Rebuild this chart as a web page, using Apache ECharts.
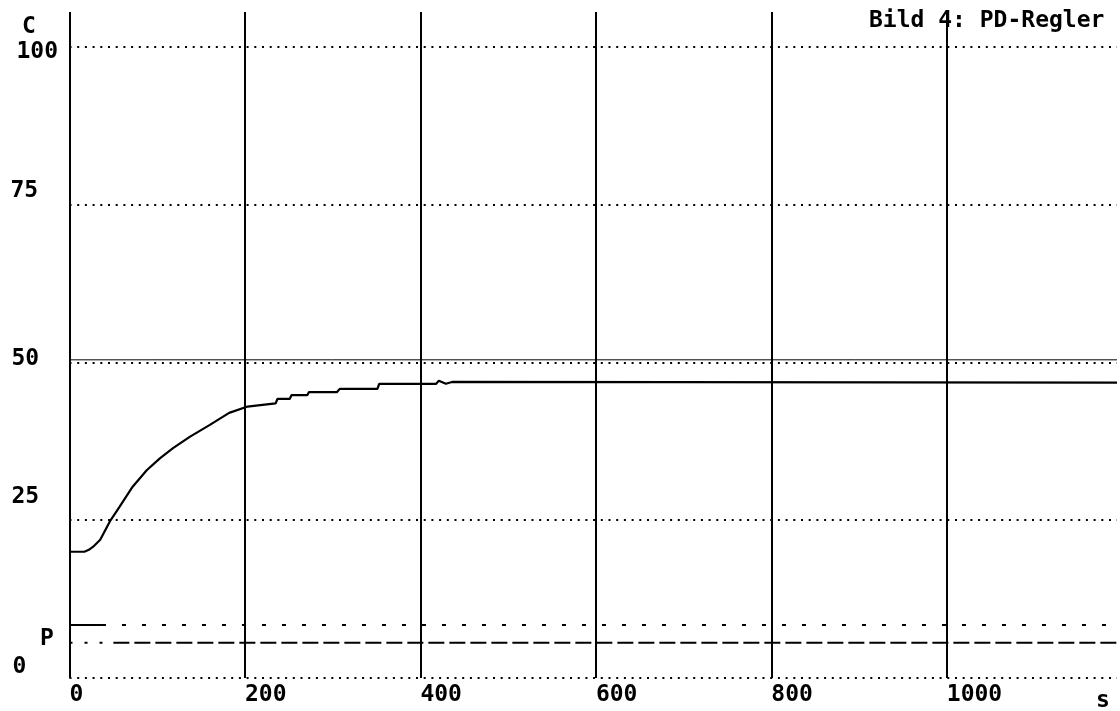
<!DOCTYPE html>
<html><head><meta charset="utf-8">
<script src="https://cdn.jsdelivr.net/npm/echarts@6/dist/echarts.min.js"></script>
<style>html,body{margin:0;padding:0;background:#fff}#c{width:1120px;height:711px}</style>
</head><body><div id="c"></div>
<script>
// --- data ---
const xTicks = [0, 200, 400, 600, 800, 1000];
const yTicks = [0, 25, 50, 75, 100];
const xMax = 1194;
const titleText = 'Bild 4: PD-Regler';
const yName = 'C';
const pName = 'P';
const xName = 's';

// controlled variable C over time t (s)
const curveT = [0, 17, 22, 27, 35, 46, 57, 72, 88, 103, 118, 137, 160, 182, 203, 215, 216, 235, 237, 251, 253, 271, 273, 305, 308, 351, 353, 418, 421, 429, 436, 1194];
const curveC = [20.0, 20.0, 20.3, 20.8, 21.9, 24.8, 27.1, 30.3, 32.9, 34.8, 36.4, 38.2, 40.1, 42.0, 43.0, 43.2, 43.5, 43.5, 44.2, 44.2, 44.8, 44.8, 45.3, 45.3, 45.8, 45.8, 46.6, 46.6, 47.1, 46.6, 46.9, 46.8];

// setpoint line
const setT = [0, 1194];
const setC = [50.4, 50.4];

// upper P trace (solid start, then dotted)
const pUpSolidT = [0, 37];
const pUpDotT = [37, 1194];
const pUpLevel = 8.4;

// lower P trace (dotted start, then dashed)
const pLowDotT = [0, 50];
const pLowDashT = [50, 1194];
const pLowLevel = 5.6;

// --- chart ---
const FONT = 'DejaVu Sans Mono';
const pair = (ts, vs) => ts.map((t, i) => [t, Array.isArray(vs) ? vs[i] : vs]);

const yShift = {0: 'm0', 25: 'm25', 50: 'm50', 75: 'm75', 100: 'm100'};
const baseRich = {fontFamily: FONT, fontWeight: 'bold', fontSize: 23, color: '#000'};
const rich = {
  m0:   Object.assign({}, baseRich, {padding: [0, 0, 22, 2]}),
  m25:  Object.assign({}, baseRich, {padding: [0, 0, 46, 1]}),
  m50:  Object.assign({}, baseRich, {padding: [0, 0, 6, 1]}),
  m75:  Object.assign({}, baseRich, {padding: [0, 0, 28, 0]}),
  m100: Object.assign({}, baseRich, {padding: [11, 0, 0, 6]})
};

const dotted = {type: [2, 5.7], width: 2, color: '#000'};
const solidV = {type: 'solid', width: 2, color: '#000'};

const markData = []
  .concat(yTicks.map(v => ({yAxis: v, lineStyle: dotted})))
  .concat(xTicks.map(v => ({xAxis: v, lineStyle: solidV})));

const chart = echarts.init(document.getElementById('c'), null, {renderer: 'canvas'});
chart.setOption({
  animation: false,
  backgroundColor: '#fff',
  grid: {left: 69.5, right: 0, top: 12, bottom: 33, containLabel: false},
  xAxis: {
    type: 'value', min: 0, max: xMax, interval: 200,
    axisLine: {show: false}, axisTick: {show: false}, splitLine: {show: false},
    axisLabel: {
      margin: 6, align: 'left', color: '#000',
      fontFamily: FONT, fontWeight: 'bold', fontSize: 23,
      formatter: v => xTicks.indexOf(v) >= 0 ? String(v) : ''
    }
  },
  yAxis: {
    type: 'value', min: 0, max: 105.5, interval: 25,
    axisLine: {show: false}, axisTick: {show: false}, splitLine: {show: false},
    axisLabel: {
      margin: 59, align: 'left', verticalAlign: 'middle',
      formatter: v => yTicks.indexOf(v) >= 0 ? '{' + yShift[v] + '|' + v + '}' : '',
      rich: rich
    }
  },
  series: [
    {
      type: 'line', data: pair(curveT, curveC), showSymbol: false, symbol: 'none',
      lineStyle: {color: '#000', width: 2.2}, z: 5,
      markLine: {silent: true, symbol: 'none', label: {show: false}, animation: false, data: markData}
    },
    {type: 'line', data: pair(setT, setC), symbol: 'none', lineStyle: {color: '#000', width: 1}},
    {type: 'line', data: pair(pUpSolidT, pUpLevel), symbol: 'none', lineStyle: {color: '#000', width: 2}},
    {type: 'line', data: pair(pUpDotT, pUpLevel), symbol: 'none', lineStyle: {color: '#000', width: 2, type: [4, 16]}},
    {type: 'line', data: pair(pLowDotT, pLowLevel), symbol: 'none', lineStyle: {color: '#000', width: 2, type: [3, 12]}},
    {type: 'line', data: pair(pLowDashT, pLowLevel), symbol: 'none', lineStyle: {color: '#000', width: 2, type: [16, 5]}}
  ],
  graphic: [
    {type: 'text', left: 869, top: 10, style: {text: titleText, font: 'bold 23px "' + FONT + '"', fill: '#000'}},
    {type: 'text', left: 22, top: 16, style: {text: yName, font: 'bold 23px "' + FONT + '"', fill: '#000'}},
    {type: 'text', left: 40, top: 628, style: {text: pName, font: 'bold 23px "' + FONT + '"', fill: '#000'}},
    {type: 'text', left: 1096, top: 690, style: {text: xName, font: 'bold 23px "' + FONT + '"', fill: '#000'}}
  ]
});
</script>
</body></html>
